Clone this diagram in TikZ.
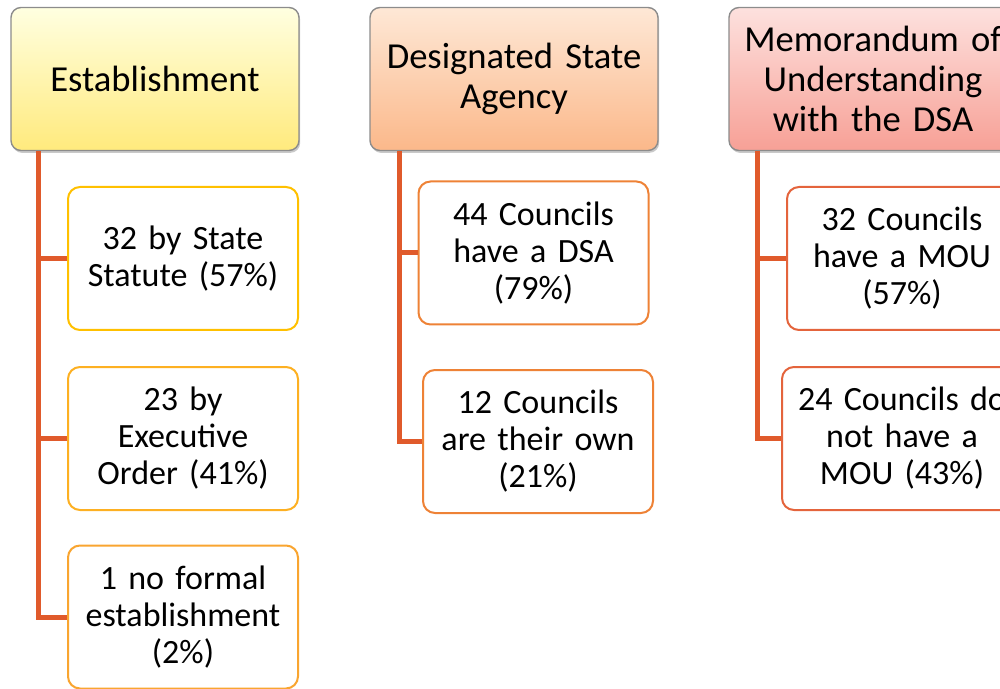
\documentclass[tikz,border=0pt]{standalone}
\usepackage{fontspec}
\setmainfont{Carlito}
\usetikzlibrary{shadows}
\usepackage{xcolor}

\definecolor{linkred}{HTML}{E05A2B}
\definecolor{goldA}{HTML}{FFC000}
\definecolor{goldB}{HTML}{FDB022}
\definecolor{goldC}{HTML}{F9A530}
\definecolor{dsaedge}{HTML}{EE8236}
\definecolor{mouedge}{HTML}{E4643C}

\begin{document}
\begin{tikzpicture}[x=0.5pt, y=-0.5pt]
 \tikzstyle{hdr}=[draw=black!45, line width=0.7pt, rounded corners=5pt,
                  minimum width=144pt, minimum height=71.5pt,
                  text width=138pt, align=center, inner sep=0pt,
                  font=\fontsize{18.3}{20}\selectfont,
                  drop shadow={shadow xshift=0.6pt, shadow yshift=-1.2pt,
                               opacity=0.3, fill=black!70}]
 \tikzstyle{leaf}=[draw, fill=white, line width=1pt, rounded corners=6pt,
                   minimum width=115pt, minimum height=71.5pt,
                   text width=110pt, align=center, inner sep=0pt,
                   font=\fontsize{17}{18.5}\selectfont]
 \tikzstyle{link}=[linkred, line width=2.5pt]

        \clip (0,0) rectangle (1000,689);
        \useasboundingbox (0,0) rectangle (1000,689);

        % headers
        \node[hdr, top color=yellow!12, bottom color={rgb,255:red,255;green,234;blue,125}]
             (est) at (155,79) {Establishment};
        \node[hdr, top color={rgb,255:red,254;green,232;blue,214}, bottom color={rgb,255:red,251;green,184;blue,138}]
             (dsa) at (514,79) {Designated State\\Agency};
        \node[hdr, top color={rgb,255:red,253;green,225;blue,222}, bottom color={rgb,255:red,247;green,160;blue,150}]
             (mou) at (873,79) {Memorandum of\\Understanding\\with the DSA};

        % establishment
        \node[leaf, draw=goldA] (e1) at (183,258.5) {32 by State\\Statute (57\%)};
        \node[leaf, draw=goldB] (e2) at (183,438.5) {23 by\\Executive\\Order (41\%)};
        \node[leaf, draw=goldC] (e3) at (183,617) {1 no formal\\establishment\\(2\%)};

        % designated state agency
        \node[leaf, draw=dsaedge] (d1) at (533.5,253) {44 Councils\\have a DSA\\(79\%)};
        \node[leaf, draw=dsaedge] (d2) at (538,441.5) {12 Councils\\are their own\\(21\%)};

        % memorandum
        \node[leaf, draw=mouedge] (m1) at (902,258.5) {32 Councils\\have a MOU\\(57\%)};
        \node[leaf, draw=mouedge, text width=120pt] (m2) at (902,438.5) {24 Councils do\\not have a\\MOU (43\%)};

        \draw[link] ([xshift=14pt]est.south west) |- (e1.west);
        \draw[link] ([xshift=14pt]est.south west) |- (e2.west);
        \draw[link] ([xshift=14pt]est.south west) |- (e3.west);

        \draw[link] ([xshift=15pt]dsa.south west) |- (d1.west);
        \draw[link] ([xshift=15pt]dsa.south west) |- (d2.west);

        \draw[link] ([xshift=14.5pt]mou.south west) |- (m1.west);
        \draw[link] ([xshift=14.5pt]mou.south west) |- (m2.west);

\end{tikzpicture}
\end{document}
